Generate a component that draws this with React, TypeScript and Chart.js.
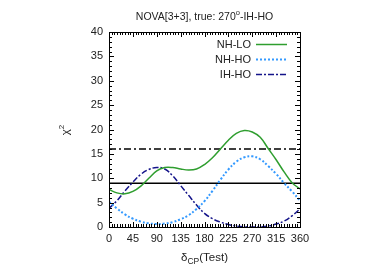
import React, { useEffect, useRef } from 'react';
import { Chart, registerables } from 'chart.js';

Chart.register(...registerables);

const deltaCP = [0, 15, 30, 45, 60, 75, 90, 105, 120, 135, 150, 165, 180, 195, 210, 225, 240, 255, 270, 285, 300, 315, 330, 345, 360];
const nhLO = [7.7, 7.0, 6.8, 7.3, 8.4, 10.0, 11.5, 12.2, 12.2, 11.9, 11.7, 11.9, 12.8, 14.2, 16.0, 17.8, 19.2, 19.8, 19.5, 18.4, 16.1, 13.8, 11.3, 9.1, 7.8];
const nhHO = [5.2, 3.8, 2.6, 1.7, 1.1, 0.75, 0.6, 0.7, 1.0, 1.6, 2.4, 3.7, 5.3, 7.4, 9.7, 11.8, 13.4, 14.3, 14.5, 13.9, 12.5, 10.9, 9.0, 7.3, 5.4];
const ihHO = [3.8, 5.4, 7.4, 9.2, 10.8, 11.8, 12.2, 11.9, 10.5, 8.5, 6.5, 4.5, 2.8, 1.7, 1.0, 0.5, 0.2, 0.05, 0.0, 0.05, 0.2, 0.6, 1.2, 2.3, 3.7];
const seriesLabels = ['NH-LO', 'NH-HO', 'IH-HO'];
const refSolid = 9;
const refDashDot = 16;
const xTickValues = [0, 45, 90, 135, 180, 225, 270, 315, 360];
const yTickValues = [0, 5, 10, 15, 20, 25, 30, 35, 40];
const titleMain = 'NOVA[3+3], true: 270';
const titleSup = 'o';
const titleTail = '-IH-HO';

const FONT = '"Liberation Sans", Arial, sans-serif';

const pts = (ys: number[]) => ys.map((y, i) => ({ x: deltaCP[i], y }));

const decorPlugin = {
  id: 'decor',
  afterDraw(chart: any) {
    const ctx = chart.ctx;
    const a = chart.chartArea;
    const xs = chart.scales.x;
    const ys = chart.scales.y;
    ctx.save();
    // frame
    ctx.strokeStyle = '#000';
    ctx.lineWidth = 1;
    ctx.strokeRect(Math.round(a.left) + 0.5, Math.round(a.top) + 0.5, Math.round(a.right - a.left), Math.round(a.bottom - a.top));
    // ticks
    ctx.beginPath();
    for (let v = 0; v <= 360; v += 5) {
      const px = Math.round(xs.getPixelForValue(v)) + 0.5;
      const len = v % 45 === 0 ? 5 : 3;
      ctx.moveTo(px, a.bottom);
      ctx.lineTo(px, a.bottom - len);
      ctx.moveTo(px, a.top);
      ctx.lineTo(px, a.top + len);
    }
    for (let v = 0; v <= 40; v += 1) {
      const py = Math.round(ys.getPixelForValue(v)) + 0.5;
      const len = v % 5 === 0 ? 5 : 3;
      ctx.moveTo(a.left, py);
      ctx.lineTo(a.left + len, py);
      ctx.moveTo(a.right, py);
      ctx.lineTo(a.right - len, py);
    }
    ctx.stroke();

    // title
    ctx.fillStyle = '#222';
    ctx.textBaseline = 'alphabetic';
    ctx.font = `10.5px ${FONT}`;
    const supFont = `7.5px ${FONT}`;
    const w1 = ctx.measureText(titleMain).width;
    const w3 = ctx.measureText(titleTail).width;
    ctx.font = supFont;
    const w2 = ctx.measureText(titleSup).width;
    const total = w1 + w2 + w3;
    const cx = (a.left + a.right) / 2;
    let tx = cx - total / 2;
    const ty = 20;
    ctx.font = `10.5px ${FONT}`;
    ctx.textAlign = 'left';
    ctx.fillText(titleMain, tx, ty);
    tx += w1;
    ctx.font = supFont;
    ctx.fillText(titleSup, tx, ty - 5);
    tx += w2;
    ctx.font = `10.5px ${FONT}`;
    ctx.fillText(titleTail, tx, ty);

    // x axis title: delta_CP(Test)
    const xt1 = '\u03b4';
    const xt2 = 'CP';
    const xt3 = '(Test)';
    ctx.font = `11.5px ${FONT}`;
    const m1 = ctx.measureText(xt1).width;
    const m3 = ctx.measureText(xt3).width;
    ctx.font = `8.5px ${FONT}`;
    const m2 = ctx.measureText(xt2).width;
    let xx = cx - (m1 + m2 + m3) / 2;
    const xy = 261;
    ctx.font = `11.5px ${FONT}`;
    ctx.fillText(xt1, xx, xy);
    xx += m1;
    ctx.font = `8.5px ${FONT}`;
    ctx.fillText(xt2, xx, xy + 3);
    xx += m2;
    ctx.font = `11.5px ${FONT}`;
    ctx.fillText(xt3, xx, xy);

    // y axis title chi^2 rotated
    ctx.save();
    ctx.translate(69, 130);
    ctx.rotate(-Math.PI / 2);
    ctx.font = `11.5px ${FONT}`;
    const c1 = ctx.measureText('\u03c7').width;
    ctx.font = `8px ${FONT}`;
    const c2 = ctx.measureText('2').width;
    let cxx = -(c1 + c2) / 2;
    ctx.font = `11.5px ${FONT}`;
    ctx.fillText('\u03c7', cxx, 0);
    cxx += c1;
    ctx.font = `8px ${FONT}`;
    ctx.fillText('2', cxx, -5);
    ctx.restore();

    // legend
    const rows = [44.5, 59.5, 74.5];
    ctx.font = `11px ${FONT}`;
    ctx.textAlign = 'right';
    ctx.textBaseline = 'middle';
    for (let i = 0; i < 3; i++) {
      const ds = chart.data.datasets[i];
      ctx.fillStyle = '#222';
      ctx.fillText(ds.label, 251, rows[i] + 0.5);
      ctx.beginPath();
      ctx.strokeStyle = ds.borderColor;
      ctx.lineWidth = ds.borderWidth;
      ctx.setLineDash(ds.borderDash || []);
      ctx.moveTo(256, rows[i]);
      ctx.lineTo(287, rows[i]);
      ctx.stroke();
    }
    ctx.setLineDash([]);
    ctx.restore();
  },
};

export default function App() {
  const ref = useRef<HTMLCanvasElement | null>(null);
  useEffect(() => {
    document.body.style.margin = '0';
    const canvas = ref.current;
    if (!canvas) return;
    const chart = new Chart(canvas, {
      type: 'line',
      data: {
        datasets: [
          {
            label: seriesLabels[0],
            data: pts(nhLO),
            borderColor: '#2f9e2f',
            borderWidth: 1.5,
            tension: 0.4,
            pointRadius: 0,
          },
          {
            label: seriesLabels[1],
            data: pts(nhHO),
            borderColor: '#3399ff',
            borderWidth: 2,
            borderDash: [2, 2],
            tension: 0.4,
            pointRadius: 0,
          },
          {
            label: seriesLabels[2],
            data: pts(ihHO),
            borderColor: '#14148a',
            borderWidth: 1.5,
            borderDash: [6, 2, 2, 2],
            tension: 0.4,
            pointRadius: 0,
          },
          {
            label: 'ref9',
            data: [{ x: 0, y: refSolid }, { x: 360, y: refSolid }],
            borderColor: '#000',
            borderWidth: 1.5,
            pointRadius: 0,
          },
          {
            label: 'ref16',
            data: [{ x: 0, y: refDashDot }, { x: 360, y: refDashDot }],
            borderColor: '#000',
            borderWidth: 1.5,
            borderDash: [7, 3, 2, 3],
            pointRadius: 0,
          },
        ],
      },
      options: {
        responsive: false,
        animation: false,
        devicePixelRatio: 1,
        layout: { padding: { left: 0, top: 32, right: 82, bottom: 0 } },
        plugins: { legend: { display: false }, tooltip: { enabled: false }, title: { display: false } },
        scales: {
          x: {
            type: 'linear',
            min: 0,
            max: 360,
            afterBuildTicks: (s: any) => { s.ticks = xTickValues.map((v) => ({ value: v })); },
            afterFit: (s: any) => { s.height = 46; },
            ticks: { color: '#222', font: { family: FONT, size: 11 }, padding: 5, maxRotation: 0, autoSkip: false },
            grid: { display: false, drawTicks: false },
            border: { display: false },
          },
          y: {
            type: 'linear',
            min: 0,
            max: 40,
            afterBuildTicks: (s: any) => { s.ticks = yTickValues.map((v) => ({ value: v })); },
            afterFit: (s: any) => { s.width = 109; },
            ticks: { color: '#222', font: { family: FONT, size: 11 }, padding: 6 },
            grid: { display: false, drawTicks: false },
            border: { display: false },
          },
        },
      },
      plugins: [decorPlugin],
    } as any);
    return () => chart.destroy();
  }, []);
  return (
    <div style={{ position: 'relative', width: 382, height: 273 }}>
      <canvas ref={ref} width={382} height={273} />
    </div>
  );
}
